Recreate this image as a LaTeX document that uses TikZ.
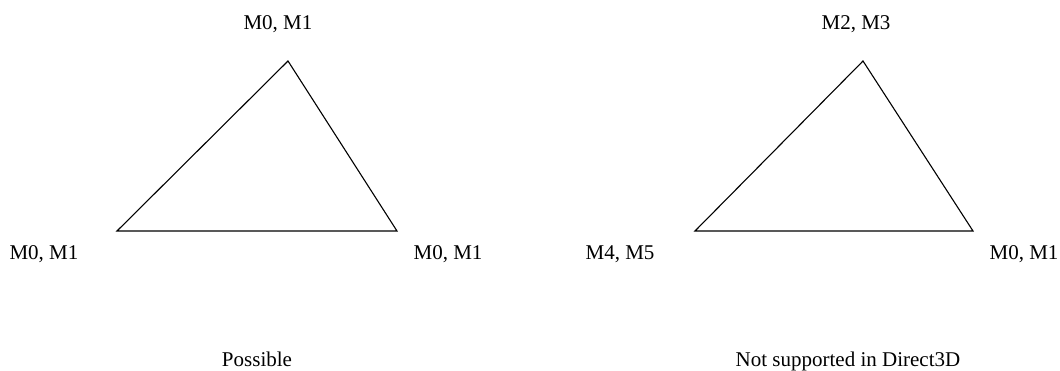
\documentclass[tikz,border=0pt]{standalone}
\usepackage{fontspec}
\setmainfont{Liberation Serif}
\usetikzlibrary{positioning}

\tikzset{
    vlabel/.style={anchor=base, inner sep=0pt, font=\fontsize{21}{24}\selectfont},
    edge/.style={line width=1.1pt, line join=miter}
}

\begin{document}
\begin{tikzpicture}[x=1pt, y=-1pt]
            \useasboundingbox (0,0) rectangle (1060,370);
            %
            \coordinate (pleft) at (117,231);
            \coordinate (ptop) at (288,61);
            \coordinate (pright) at (397,231);
            \draw[edge] (pleft) -- (ptop) -- (pright) -- cycle;
            \node[vlabel] (ptoplab) at (278,29) {M0, M1};
            \node[vlabel] (pleftlab) at (44,259) {M0, M1};
            \node[vlabel] (prightlab) at (448,259) {M0, M1};
            \node[vlabel] (pcaption) at (257,366) {Possible};
            %
            \coordinate (nleft) at (695,231);
            \coordinate (ntop) at (863,61);
            \coordinate (nright) at (973,231);
            \draw[edge] (nleft) -- (ntop) -- (nright) -- cycle;
            \node[vlabel] (ntoplab) at (856,29) {M2, M3};
            \node[vlabel] (nleftlab) at (620,259) {M4, M5};
            \node[vlabel] (nrightlab) at (1024,259) {M0, M1};
            \node[vlabel] (ncaption) at (848,366) {Not supported in Direct3D};
        \end{tikzpicture}
\end{document}
